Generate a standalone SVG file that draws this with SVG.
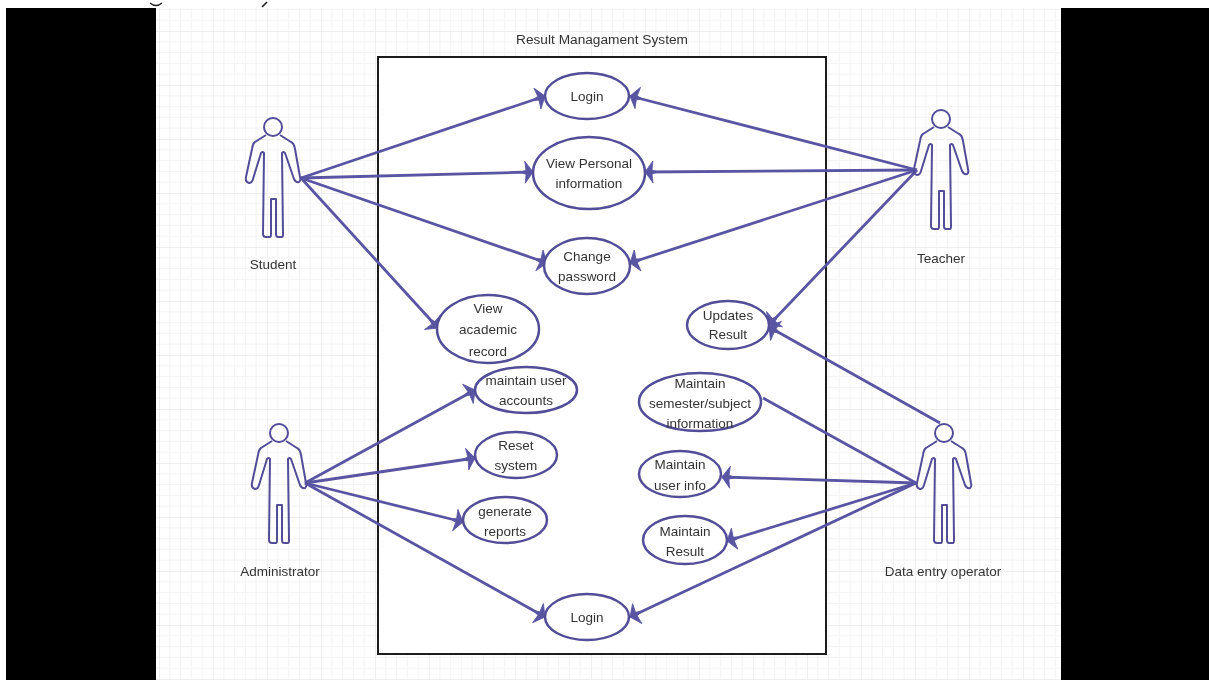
<svg xmlns="http://www.w3.org/2000/svg" xmlns:xlink="http://www.w3.org/1999/xlink" width="1209" height="680" viewBox="0 0 1209 680">
<style>
text{font-family:"Liberation Sans",Arial,sans-serif;font-size:13.5px;fill:#333;text-anchor:middle}
.uc{fill:#fff;stroke:#524d98;stroke-width:2.5}
.ac{fill:none;stroke:#524d98;stroke-width:2;stroke-linejoin:round}
.head{fill:#fff;stroke:#524d98;stroke-width:2}
.c{stroke:#5a55a3;stroke-width:2.8;fill:none}
.a{marker-end:url(#arrow)}
</style>
<defs>
<pattern id="grid" width="54" height="54" patternUnits="userSpaceOnUse" patternTransform="translate(159 31)">
<rect width="54" height="54" fill="#fff"/>
<path d="M10.8 0V54M21.6 0V54M32.4 0V54M43.2 0V54M0 10.8H54M0 21.6H54M0 32.4H54M0 43.2H54" stroke="#f4f4f4" stroke-width="1" fill="none"/>
<path d="M0 0V54M0 0H54" stroke="#e9e9e9" stroke-width="1.4" fill="none"/>
</pattern>
<marker id="arrow" markerUnits="userSpaceOnUse" markerWidth="20" markerHeight="26" refX="16" refY="13" orient="auto" overflow="visible">
<path d="M16 13L8 2L9 11L3 13L9 15L8 24Z" fill="#5a55a3" stroke="#5a55a3" stroke-width=".8"/>
</marker>
<path id="actor" d="M-7 8L-18 15Q-20 16 -21 22L-27 50Q-28 55 -24 56Q-21 56 -20 52L-12 26Q-10 24 -9 26L-10 107Q-10 110 -7 110H-3Q-2 110 -2 107V72H3V107Q3 110 5 110H9Q10 110 10 107L9 26Q10 24 12 26L21 52Q23 56 26 55Q28 54 27 50L22 22Q21 16 18 15L7 8"/>
<filter id="soft" x="0" y="0" width="100%" height="100%"><feGaussianBlur stdDeviation="0.6"/></filter>
</defs>
<rect width="1209" height="680" fill="#fff"/>
<rect x="6" y="8" width="1203" height="672" fill="#000"/>
<g filter="url(#soft)">
<rect x="156" y="8" width="905" height="672" fill="url(#grid)"/>
<rect id="system" x="378" y="57" width="448" height="597" fill="#fff" stroke="#1c1c1c" stroke-width="2"/>
<text x="602" y="44" style="font-size:13.7px">Result Managament System</text>
<g id="connectors">
<path class="c a" d="M301 178L545 96"/>
<path class="c a" d="M301 178L533 172"/>
<path class="c a" d="M301 178L547 263"/>
<path class="c a" d="M301 178L438 328"/>
<path class="c a" d="M917 170L630 96"/>
<path class="c a" d="M917 170L645 172"/>
<path class="c a" d="M917 170L630 263"/>
<path class="c a" d="M917 170L769 325"/>
<path class="c a" d="M305 483L475 390"/>
<path class="c a" d="M305 483L475 458"/>
<path class="c a" d="M305 483L463 522"/>
<path class="c a" d="M305 483L545 617"/>
<path class="c a" d="M940 423L769 327"/>
<path class="c" d="M916 483L763 398"/>
<path class="c a" d="M916 483L722 477"/>
<path class="c a" d="M916 483L727 541"/>
<path class="c a" d="M916 483L630 617"/>
</g>
<g id="uc-login-top"><ellipse class="uc" cx="587" cy="96" rx="42" ry="23"/><text x="587" y="101">Login</text></g>
<g id="uc-view-personal"><ellipse class="uc" cx="589" cy="173" rx="56" ry="36"/><text x="589" y="168">View Personal</text><text x="589" y="188">information</text></g>
<g id="uc-change-password"><ellipse class="uc" cx="587" cy="266" rx="43" ry="28"/><text x="587" y="261">Change</text><text x="587" y="281">password</text></g>
<g id="uc-view-academic"><ellipse class="uc" cx="488" cy="329" rx="51" ry="34"/><text x="488" y="313">View</text><text x="488" y="334">academic</text><text x="488" y="356">record</text></g>
<g id="uc-maintain-accounts"><ellipse class="uc" cx="526" cy="390" rx="51" ry="23"/><text x="526" y="385">maintain user</text><text x="526" y="405">accounts</text></g>
<g id="uc-reset"><ellipse class="uc" cx="516" cy="455" rx="41" ry="23"/><text x="516" y="450">Reset</text><text x="516" y="470">system</text></g>
<g id="uc-reports"><ellipse class="uc" cx="505" cy="520" rx="42" ry="23"/><text x="505" y="516">generate</text><text x="505" y="536">reports</text></g>
<g id="uc-updates"><ellipse class="uc" cx="728" cy="325" rx="41" ry="24"/><text x="728" y="320">Updates</text><text x="728" y="339">Result</text></g>
<g id="uc-semester"><ellipse class="uc" cx="700" cy="402" rx="61" ry="29"/><text x="700" y="388">Maintain</text><text x="700" y="408">semester/subject</text><text x="700" y="428">information</text></g>
<g id="uc-user-info"><ellipse class="uc" cx="680" cy="474" rx="41" ry="23"/><text x="680" y="469">Maintain</text><text x="680" y="490">user info</text></g>
<g id="uc-result"><ellipse class="uc" cx="685" cy="540" rx="42" ry="24"/><text x="685" y="536">Maintain</text><text x="685" y="556">Result</text></g>
<g id="uc-login-bottom"><ellipse class="uc" cx="587" cy="617" rx="42" ry="23"/><text x="587" y="622">Login</text></g>
<g id="actor-student"><circle class="head" cx="273" cy="127" r="9"/><use href="#actor" class="ac" x="273" y="127"/><text x="273" y="269">Student</text></g>
<g id="actor-teacher"><circle class="head" cx="941" cy="119" r="9"/><use href="#actor" class="ac" x="941" y="119"/><text x="941" y="263">Teacher</text></g>
<g id="actor-administrator"><circle class="head" cx="279" cy="433" r="9"/><use href="#actor" class="ac" x="279" y="433"/><text x="280" y="576">Administrator</text></g>
<g id="actor-data-entry"><circle class="head" cx="944" cy="433" r="9"/><use href="#actor" class="ac" x="944" y="433"/><text x="943" y="576">Data entry operator</text></g>
</g>
<path d="M150 3Q156 8 162 3M262 7L267 2" fill="none" stroke="#222" stroke-width="1.6"/>
</svg>
